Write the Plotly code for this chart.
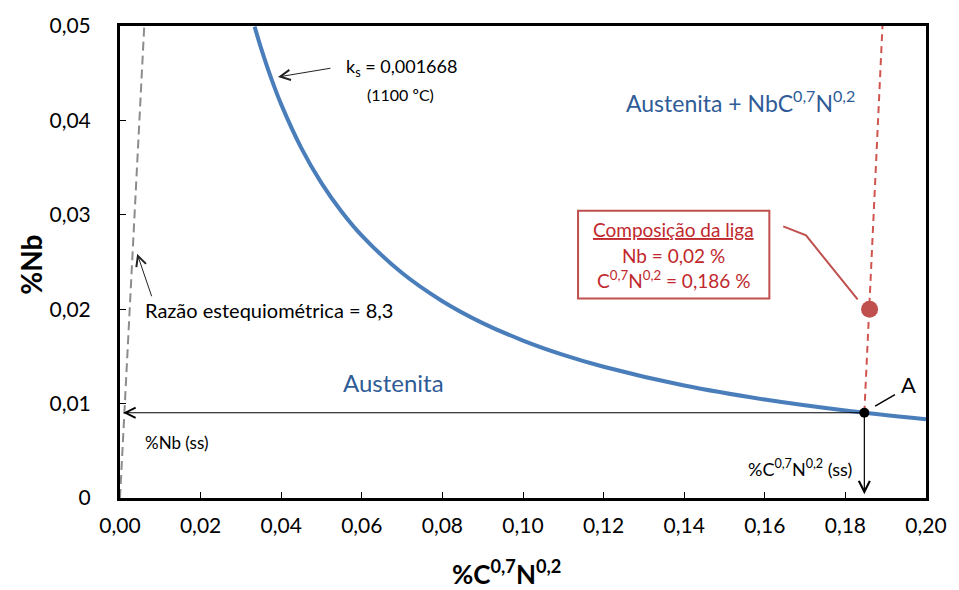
import plotly.graph_objects as go

# Solubility product of NbC0,7N0,2 in austenite at 1100 ºC and Nb/C stoichiometric ratio
KS_LABEL = "0,001668"
RATIO_LABEL = "8,3"

# Solubility isotherm  %Nb · %C0,7N0,2 = ks
curve_c = [0.0334, 0.035, 0.0375, 0.040, 0.045, 0.050, 0.055, 0.060, 0.070, 0.080,
           0.090, 0.100, 0.110, 0.120, 0.140, 0.160, 0.180, 0.200]
curve_nb = [0.04994, 0.04766, 0.04448, 0.04170, 0.03707, 0.03336, 0.03033, 0.02780, 0.02383, 0.02085,
            0.01853, 0.01668, 0.01516, 0.01390, 0.01191, 0.01043, 0.00927, 0.00834]

# Stoichiometric line through the origin
stoich_c = [0.0, 0.00602]
stoich_nb = [0.0, 0.05]

# Alloy composition and its line of constant ratio
alloy_c = [0.186]
alloy_nb = [0.02]
alloy_line_c = [0.1847, 0.1892]
alloy_line_nb = [0.00903, 0.05]

# Point A: equilibrium composition in solid solution
a_c = 0.1847
a_nb = 0.00903

x_ticks = [0.00, 0.02, 0.04, 0.06, 0.08, 0.10, 0.12, 0.14, 0.16, 0.18, 0.20]
x_labels = ["0,00", "0,02", "0,04", "0,06", "0,08", "0,10", "0,12", "0,14", "0,16", "0,18", "0,20"]
y_ticks = [0.00, 0.01, 0.02, 0.03, 0.04, 0.05]
y_labels = ["0", "0,01", "0,02", "0,03", "0,04", "0,05"]

FONT = "Lato"
BLUE_TXT = "#2f5c97"
RED_TXT = "#c0282e"
RED = "#c0504d"

fig = go.Figure()

fig.add_trace(go.Scatter(x=stoich_c, y=stoich_nb, mode="lines",
                         line=dict(color="#8c8c8c", width=2, dash="9px,5px"),
                         hoverinfo="skip", showlegend=False))
fig.add_trace(go.Scatter(x=alloy_line_c, y=alloy_line_nb, mode="lines",
                         line=dict(color="#d0554f", width=2, dash="7px,5px"),
                         hoverinfo="skip", showlegend=False))
fig.add_trace(go.Scatter(x=curve_c, y=curve_nb, mode="lines",
                         line=dict(color="#4a7ebb", width=4, shape="spline", smoothing=0.8),
                         showlegend=False))
fig.add_trace(go.Scatter(x=alloy_c, y=alloy_nb, mode="markers",
                         marker=dict(color=RED, size=17), cliponaxis=False, showlegend=False))
fig.add_trace(go.Scatter(x=[a_c], y=[a_nb], mode="markers",
                         marker=dict(color="black", size=10), cliponaxis=False, showlegend=False))

shapes = [
    # alloy composition box
    dict(type="rect", xref="x", yref="y", x0=0.11366, x1=0.16113, y0=0.02113, y1=0.03044,
         line=dict(color=RED, width=2), fillcolor="white"),
    # connector from box to alloy point
    dict(type="path", xref="x", yref="y",
         path="M 0.16458,0.02877 L 0.17023,0.02782 L 0.18303,0.02103",
         line=dict(color=RED, width=2)),
    # leader line for label A
    dict(type="line", xref="x", yref="y", x0=0.18738, y0=0.00973, x1=0.19230, y1=0.01095,
         line=dict(color="black", width=1.5)),
]

def label(x, y, text, size, color="black", **kw):
    return dict(x=x, y=y, xref="x", yref="y", text=text, showarrow=False,
                font=dict(family=FONT, size=size, color=color),
                xanchor="center", yanchor="middle", **kw)

annotations = [
    label(0.06987, 0.04561, "k<sub>s</sub> = " + KS_LABEL, 18),
    label(0.06962, 0.04279, "(1100 ºC)", 16),
    label(0.15387, 0.04205, "Austenita + NbC<sup>0,7</sup>N<sup>0,2</sup>", 23, BLUE_TXT),
    label(0.13733, 0.02845, "<u>Composição da liga</u>", 19, RED_TXT),
    label(0.13733, 0.02573, "Nb = 0,02 %", 19, RED_TXT),
    label(0.13733, 0.02312, "C<sup>0,7</sup>N<sup>0,2</sup> = 0,186 %", 19, RED_TXT),
    label(0.03690, 0.01987, "Razão estequiométrica = " + RATIO_LABEL, 20),
    label(0.06790, 0.01224, "Austenita", 24, BLUE_TXT),
    label(0.01414, 0.00586, "%Nb (ss)", 17),
    label(0.16875, 0.00314, "%C<sup>0,7</sup>N<sup>0,2</sup> (ss)", 18),
    label(0.19557, 0.01203, "A", 22),
    # axis titles
    dict(x=-0.1107, y=0.4937, xref="paper", yref="paper", text="<b>%Nb</b>", showarrow=False,
         textangle=-90, font=dict(family=FONT, size=28, color="black"),
         xanchor="center", yanchor="middle"),
    dict(x=0.4797, y=-0.1569, xref="paper", yref="paper",
         text="<b>%C<sup>0,7</sup>N<sup>0,2</sup></b>", showarrow=False,
         font=dict(family=FONT, size=26, color="black"), xanchor="center", yanchor="middle"),
    # arrows
    dict(x=0.0392, y=0.0446, xref="x", yref="y", text="", showarrow=True, ax=54, ay=-9,
         arrowhead=5, arrowsize=2, arrowwidth=1, arrowcolor="#222"),
    dict(x=0.00426, y=0.02587, xref="x", yref="y", text="", showarrow=True, ax=15, ay=44,
         arrowhead=5, arrowsize=2, arrowwidth=1, arrowcolor="#222"),
    dict(x=0.0008, y=a_nb, xref="x", yref="y", text="", showarrow=True,
         axref="x", ayref="y", ax=a_c, ay=a_nb,
         arrowhead=5, arrowsize=2, arrowwidth=1, arrowcolor="black"),
    dict(x=a_c, y=0.0004, xref="x", yref="y", text="", showarrow=True,
         axref="x", ayref="y", ax=a_c, ay=a_nb,
         arrowhead=5, arrowsize=1.8, arrowwidth=1.2, arrowcolor="black"),
]

axis_common = dict(showgrid=False, zeroline=False, showline=True, linewidth=3, linecolor="black",
                   mirror=True, ticks="inside", ticklen=6, tickwidth=1, tickcolor="black",
                   tickfont=dict(family=FONT, size=21, color="black"))

fig.update_layout(
    width=959, height=590, autosize=False,
    margin=dict(l=120, r=26, t=20, b=92),
    paper_bgcolor="white", plot_bgcolor="white",
    xaxis=dict(range=[0, 0.2], tickvals=x_ticks, ticktext=x_labels, ticklabelstandoff=7,
               **axis_common),
    yaxis=dict(range=[0, 0.05], tickvals=y_ticks, ticktext=y_labels, ticklabelstandoff=22,
               **axis_common),
    shapes=shapes, annotations=annotations, showlegend=False,
)

fig.write_html("out.html")
